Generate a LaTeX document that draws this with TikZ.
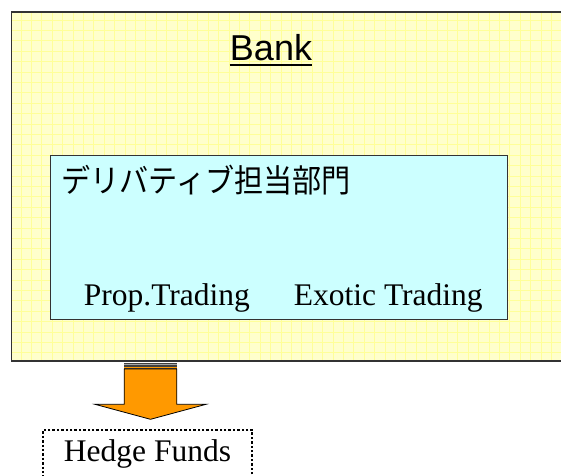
\documentclass[tikz,border=0pt]{standalone}
\usepackage{fontspec}
\setmainfont{Liberation Serif}
\newfontfamily\banksans{Liberation Sans}
\newfontfamily\jpsans[FakeStretch=0.91]{Noto Sans CJK JP}

\definecolor{bankyellow}{HTML}{FFFFCC}
\definecolor{gridyellow}{HTML}{FFFF99}
\definecolor{deptcyan}{HTML}{CCFFFF}
\definecolor{arroworange}{HTML}{FF9900}

\begin{document}
\begin{tikzpicture}[x=1pt,y=-1pt,thick]
	\useasboundingbox (0,0) rectangle (561,475);

	% bank (runs off the right edge)
	\node[draw=black!80,line width=1.6pt,fill=bankyellow,anchor=north west,inner sep=0,
		minimum width=560pt,minimum height=349pt,
		path picture={\draw[gridyellow,line width=0.6pt,step=10.4pt]
			(path picture bounding box.south west) grid (path picture bounding box.north east);}]
		(bank) at (10.5,11) {};
	\node[font=\banksans\fontsize{36}{36}\selectfont,anchor=base,inner sep=0]
		(banktitle) at (271,60) {Bank};
	\draw[line width=2.2pt] ([yshift=-5pt]banktitle.base west) -- ([yshift=-5pt]banktitle.base east);

	% derivatives department
	\node[draw=black!80,line width=1.2pt,fill=deptcyan,anchor=north west,inner sep=0,
		minimum width=457pt,minimum height=164pt] (dept) at (50,155) {};
	\node[font=\jpsans\fontsize{32}{32}\selectfont,anchor=base west,inner sep=0]
		(depttitle) at (61,192) {デリバティブ担当部門};
	\node[font=\fontsize{31.5}{31.5}\selectfont,anchor=base west,inner sep=0]
		(prop) at (83.5,305) {Prop.Trading};
	\node[font=\fontsize{31.5}{31.5}\selectfont,anchor=base west,inner sep=0]
		(exotic) at (293.5,305) {Exotic Trading};

	% hedge funds (runs off the bottom edge)
	\node[draw,dotted,line width=2.4pt,anchor=north west,inner sep=0,
		minimum width=209pt,minimum height=60pt] (hedge) at (42,428.5) {};
	\node[font=\fontsize{31.5}{31.5}\selectfont,anchor=base,inner sep=0]
		(hedgetitle) at (147.5,461.5) {Hedge Funds};

	% block arrow bank -> hedge funds
	\coordinate (arrtop) at (150.5,362.5);
	\coordinate (arrtip) at (150.5,419.3);
	\fill[black!75] ([xshift=-26.3pt]arrtop) rectangle ([xshift=26.3pt,yshift=-6.5pt]arrtop);
	\fill[gray!70] ([xshift=-26.3pt,yshift=-1pt]arrtop) rectangle ([xshift=26.3pt,yshift=-2.5pt]arrtop);
	\fill[arroworange] ([xshift=-26.3pt,yshift=-4pt]arrtop) rectangle ([xshift=26.3pt,yshift=-5pt]arrtop);
	\draw[fill=arroworange,line width=0.8pt] ([xshift=-26.3pt,yshift=-6.5pt]arrtop)
		-- ([xshift=-26.3pt,yshift=15pt]arrtip) -- ([xshift=-55.5pt,yshift=15pt]arrtip)
		-- (arrtip) -- ([xshift=55.5pt,yshift=15pt]arrtip)
		-- ([xshift=26.3pt,yshift=15pt]arrtip) -- ([xshift=26.3pt,yshift=-6.5pt]arrtop) -- cycle;
\end{tikzpicture}
\end{document}
